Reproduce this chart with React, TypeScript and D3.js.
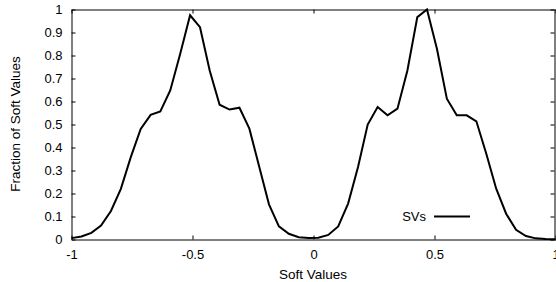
import React, { useEffect, useRef } from 'react';
import * as d3 from 'd3';

// sample positions along the soft value axis (50 bins across [-1, 1])
const softValues = [
  -1.0, -0.959, -0.918, -0.878, -0.837, -0.796, -0.755, -0.714, -0.673, -0.633,
  -0.592, -0.551, -0.51, -0.469, -0.429, -0.388, -0.347, -0.306, -0.265, -0.224,
  -0.184, -0.143, -0.102, -0.061, -0.02, 0.02, 0.061, 0.102, 0.143, 0.184,
  0.224, 0.265, 0.306, 0.347, 0.388, 0.429, 0.469, 0.51, 0.551, 0.592,
  0.633, 0.673, 0.714, 0.755, 0.796, 0.837, 0.878, 0.918, 0.959, 1.0,
];

// fraction of soft values per bin
const svFractions = [
  0.006, 0.013, 0.029, 0.061, 0.124, 0.22, 0.358, 0.481, 0.542, 0.557,
  0.648, 0.807, 0.975, 0.923, 0.735, 0.586, 0.565, 0.573, 0.482, 0.315,
  0.153, 0.057, 0.025, 0.01, 0.007, 0.008, 0.02, 0.057, 0.156, 0.315,
  0.5, 0.576, 0.54, 0.569, 0.735, 0.967, 1.0, 0.829, 0.612, 0.54,
  0.54, 0.514, 0.373, 0.221, 0.112, 0.042, 0.015, 0.005, 0.002, 0.001,
];

const xTicks = [-1, -0.5, 0, 0.5, 1];
const yTicks = [0, 0.1, 0.2, 0.3, 0.4, 0.5, 0.6, 0.7, 0.8, 0.9, 1];

const seriesName = 'SVs';
const xLabel = 'Soft Values';
const yLabel = 'Fraction of Soft Values';

const width = 556;
const height = 282;
const fontFamily = '"Liberation Sans", Arial, Helvetica, sans-serif';

const App: React.FC = () => {
  const svgRef = useRef<SVGSVGElement>(null);

  useEffect(() => {
    if (!svgRef.current) return;
    const svg = d3.select(svgRef.current);
    svg.selectAll('*').remove();

    const margin = { top: 9, right: 1, bottom: 43, left: 71 };
    const innerWidth = width - margin.left - margin.right;
    const innerHeight = height - margin.top - margin.bottom;

    const g = svg
      .append('g')
      .attr('transform', `translate(${margin.left + 0.5},${margin.top + 0.5})`);

    const xScale = d3.scaleLinear().domain([-1, 1]).range([0, innerWidth]);
    const yScale = d3.scaleLinear().domain([0, 1]).range([innerHeight, 0]);

    const fmt = (d: d3.NumberValue) => String(+(+d).toFixed(1));

    const styleAxis = (sel: d3.Selection<SVGGElement, unknown, null, undefined>) => {
      sel.selectAll('.domain').attr('stroke', '#000').attr('stroke-width', 1);
      sel.selectAll('.tick line').attr('stroke', '#000').attr('stroke-width', 1);
      sel
        .selectAll('.tick text')
        .attr('fill', '#000')
        .style('font-family', fontFamily)
        .style('font-size', '13px');
    };

    // bottom axis
    g.append('g')
      .attr('transform', `translate(0,${innerHeight})`)
      .call(d3.axisBottom(xScale).tickValues(xTicks).tickFormat(fmt).tickSize(-4).tickSizeOuter(0).tickPadding(10))
      .call(styleAxis);

    // left axis
    g.append('g')
      .call(d3.axisLeft(yScale).tickValues(yTicks).tickFormat(fmt).tickSize(-4).tickSizeOuter(0).tickPadding(9))
      .call(styleAxis);

    // mirrored top and right axes (no labels)
    g.append('g')
      .call(d3.axisTop(xScale).tickValues(xTicks).tickFormat(() => '').tickSize(-4).tickSizeOuter(0))
      .call(styleAxis);

    g.append('g')
      .attr('transform', `translate(${innerWidth - 1},0)`)
      .call(d3.axisRight(yScale).tickValues(yTicks).tickFormat(() => '').tickSize(-4).tickSizeOuter(0))
      .call(styleAxis);

    // data line
    const points = softValues.map((x, i) => ({ x, y: svFractions[i] }));
    const line = d3
      .line<{ x: number; y: number }>()
      .x((d) => xScale(d.x))
      .y((d) => yScale(d.y));

    g.append('path')
      .datum(points)
      .attr('fill', 'none')
      .attr('stroke', '#000')
      .attr('stroke-width', 2)
      .attr('stroke-linejoin', 'miter')
      .attr('d', line);

    // legend
    const legend = g.append('g').attr('transform', `translate(${xScale(0.465)},${yScale(0.1)})`);
    legend
      .append('text')
      .attr('x', 0)
      .attr('y', 0)
      .attr('dy', '0.35em')
      .attr('text-anchor', 'end')
      .style('font-family', fontFamily)
      .style('font-size', '13px')
      .text(seriesName);
    legend
      .append('line')
      .attr('x1', 8)
      .attr('x2', 44)
      .attr('y1', 0)
      .attr('y2', 0)
      .attr('stroke', '#000')
      .attr('stroke-width', 2);

    // axis titles
    svg
      .append('text')
      .attr('x', margin.left + xScale(0))
      .attr('y', 279)
      .attr('text-anchor', 'middle')
      .style('font-family', fontFamily)
      .style('font-size', '13.5px')
      .text(xLabel);

    svg
      .append('text')
      .attr('transform', `translate(20,${margin.top + innerHeight / 2}) rotate(-90)`)
      .attr('text-anchor', 'middle')
      .style('font-family', fontFamily)
      .style('font-size', '13.5px')
      .text(yLabel);
  }, []);

  return (
    <svg
      ref={svgRef}
      width={width}
      height={height}
      style={{ position: 'absolute', left: 0, top: 0, background: '#fff' }}
    />
  );
};

export default App;
